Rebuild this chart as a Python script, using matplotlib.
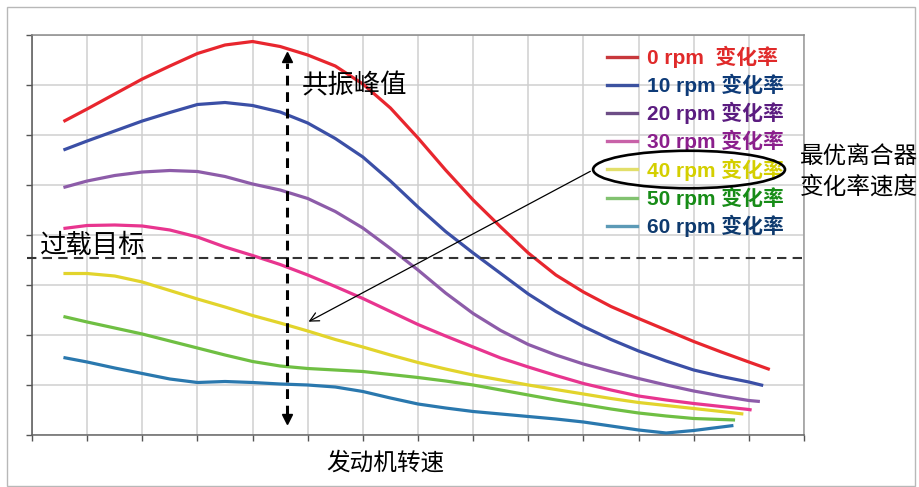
import matplotlib
matplotlib.use("Agg")
import matplotlib.pyplot as plt
from matplotlib.patches import Ellipse, Rectangle

plt.rcParams['font.family'] = ['Noto Sans CJK SC', 'DejaVu Sans']

# ---------------- data (x: engine-speed grid units, y: rate grid units) ----------
x_common = [0.57, 1.0, 1.5, 2.0, 2.5, 3.0, 3.5, 4.0, 4.5, 5.0, 5.5, 6.0, 6.5, 7.0,
            7.5, 8.0, 8.5, 9.0, 9.5, 10.0, 10.5, 11.0, 11.5, 12.0, 12.5, 13.0]

red_end_x, red_end_y = 13.38, 1.31
red_y = [6.27, 6.52, 6.82, 7.12, 7.38, 7.63, 7.80, 7.87, 7.77, 7.60, 7.38, 7.02,
         6.54, 5.94, 5.30, 4.70, 4.16, 3.64, 3.20, 2.86, 2.57, 2.33, 2.10, 1.87,
         1.66, 1.46]

blue_end_x, blue_end_y = 13.26, 0.99
blue_y = [5.70, 5.88, 6.08, 6.28, 6.45, 6.61, 6.65, 6.59, 6.46, 6.24, 5.93, 5.56,
          5.08, 4.56, 4.07, 3.64, 3.23, 2.82, 2.47, 2.17, 1.91, 1.68, 1.48, 1.30,
          1.17, 1.06]

purple_end_x, purple_end_y = 13.20, 0.67
purple_y = [4.95, 5.08, 5.19, 5.26, 5.29, 5.27, 5.17, 5.02, 4.90, 4.73, 4.47, 4.14,
            3.73, 3.30, 2.84, 2.43, 2.09, 1.81, 1.60, 1.42, 1.27, 1.13, 1.00, 0.88,
            0.78, 0.69]

pink_end_x, pink_end_y = 13.05, 0.50
pink_y = [4.13, 4.19, 4.20, 4.18, 4.10, 3.96, 3.76, 3.59, 3.41, 3.20, 2.97, 2.73,
          2.47, 2.21, 1.98, 1.76, 1.54, 1.36, 1.19, 1.03, 0.90, 0.78, 0.70, 0.63,
          0.57, 0.51]

yellow_end_x, yellow_end_y = 12.90, 0.42
yellow_y = [3.23, 3.23, 3.18, 3.06, 2.89, 2.72, 2.56, 2.39, 2.24, 2.08, 1.91, 1.76,
            1.60, 1.45, 1.32, 1.20, 1.10, 1.00, 0.91, 0.82, 0.73, 0.65, 0.59, 0.53,
            0.47]

green_end_x, green_end_y = 12.75, 0.30
green_y = [2.37, 2.26, 2.14, 2.02, 1.88, 1.74, 1.60, 1.47, 1.38, 1.33, 1.30, 1.27,
           1.21, 1.15, 1.08, 1.00, 0.90, 0.80, 0.70, 0.61, 0.52, 0.44, 0.38, 0.33]

teal_end_x, teal_end_y = 12.72, 0.19
teal_y = [1.55, 1.46, 1.34, 1.23, 1.12, 1.05, 1.07, 1.05, 1.02, 1.00, 0.96, 0.87,
          0.74, 0.62, 0.54, 0.47, 0.42, 0.37, 0.32, 0.26, 0.18, 0.10, 0.04, 0.09]

legend_labels = ['0 rpm  变化率', '10 rpm 变化率', '20 rpm 变化率', '30 rpm 变化率',
                 '40 rpm 变化率', '50 rpm 变化率', '60 rpm 变化率']

overload_level = 3.55
resonance_x = 4.625

# ---------------- styles ----------------
curve_colors = ['#e8262e', '#3b4fa6', '#8d5ca9', '#e8358f', '#e2d42c', '#6fbf43', '#2a78ae']
handle_colors = ['#c8383c', '#3c52a0', '#6d4d86', '#c862a8', '#e2df6a', '#82c270', '#5c9ab6']
text_colors = ['#e02a2a', '#0e3b78', '#5b1c80', '#8b1f8c', '#d4cf00', '#178c17', '#0e3a6e']

series = [
    (red_y, red_end_x, red_end_y),
    (blue_y, blue_end_x, blue_end_y),
    (purple_y, purple_end_x, purple_end_y),
    (pink_y, pink_end_x, pink_end_y),
    (yellow_y, yellow_end_x, yellow_end_y),
    (green_y, green_end_x, green_end_y),
    (teal_y, teal_end_x, teal_end_y),
]

fig = plt.figure(figsize=(9.19, 4.87), dpi=100)
fig.patch.set_facecolor('white')
fig.add_artist(Rectangle((7 / 919, 1 / 487), 908 / 919, 479 / 487, transform=fig.transFigure,
                         fill=False, edgecolor='#b8b8b8', lw=1.0))

ax = fig.add_axes([32 / 919, 52 / 487, 772 / 919, 400 / 487])
ax.set_xlim(0, 14)
ax.set_ylim(0, 8)
ax.set_xticks(range(0, 15))
ax.set_yticks(range(0, 9))
ax.set_xticklabels([])
ax.set_yticklabels([])
ax.grid(True, color='#cfcfcf', lw=1.1)
ax.set_axisbelow(True)
ax.tick_params(direction='out', length=4.3, width=1.0, color='#555555')
for side, c in [('left', '#555555'), ('bottom', '#666666'), ('top', '#8a8a8a'), ('right', '#999999')]:
    ax.spines[side].set_color(c)
    ax.spines[side].set_linewidth(1.1)

for (ys, ex, ey), c in zip(series, curve_colors):
    xs = x_common[:len(ys)] + [ex]
    ax.plot(xs, ys + [ey], color=c, lw=2.3, solid_capstyle='butt',
            solid_joinstyle='round', zorder=3)

# overload target dashed line
ax.plot([-0.09, 14], [overload_level, overload_level], color='#333333', lw=1.5,
        dashes=(4.5, 3), clip_on=False, zorder=4)

# resonance dashed double arrow
ax.plot([resonance_x, resonance_x], [0.40, 7.45], color='black', lw=2.2,
        dashes=(3.2, 2.2), zorder=5)
ax.plot([resonance_x], [7.57], marker='^', color='black', ms=6.5, zorder=5)
ax.plot([resonance_x], [0.33], marker='v', color='black', ms=6.5, zorder=5)

# legend drawn by hand
leg_x0, leg_x1, leg_tx = 10.42, 10.97, 11.15
leg_y0, leg_dy = 7.56, 0.562
for i, lab in enumerate(legend_labels):
    yy = leg_y0 - i * leg_dy
    ax.plot([leg_x0, leg_x1], [yy, yy], color=handle_colors[i], lw=2.4, zorder=6)
    ax.text(leg_tx, yy, lab, color=text_colors[i], fontsize=15, fontweight='bold',
            family=['Liberation Sans', 'Noto Sans CJK SC'], va='center', ha='left', zorder=6)

# ellipse and arrow
ax.add_patch(Ellipse((11.915, 5.31), 3.48, 0.75, fill=False, edgecolor='black', lw=1.9, zorder=7))
ax.annotate('', xy=(4.97, 2.24), xytext=(10.17, 5.30),
            arrowprops=dict(arrowstyle='->', color='black', lw=0.9, mutation_scale=16), zorder=7)

# annotation texts
ax.text(4.90, 6.98, '共振峰值', fontsize=19, fontweight='medium', color='black',
        va='center', ha='left', zorder=8)
ax.text(0.14, 3.80, '过载目标', fontsize=19, fontweight='medium', color='black',
        va='center', ha='left', zorder=8)
fig.text(800 / 919, 1 - 156 / 487, '最优离合器', fontsize=17, fontweight='medium',
         color='black', va='center', ha='left')
fig.text(800 / 919, 1 - 187 / 487, '变化率速度', fontsize=17, fontweight='medium',
         color='black', va='center', ha='left')
fig.text(385 / 919, 1 - 463 / 487, '发动机转速', fontsize=17, fontweight='medium',
         color='black', va='center', ha='center')

fig.savefig('out.png', dpi=100)
